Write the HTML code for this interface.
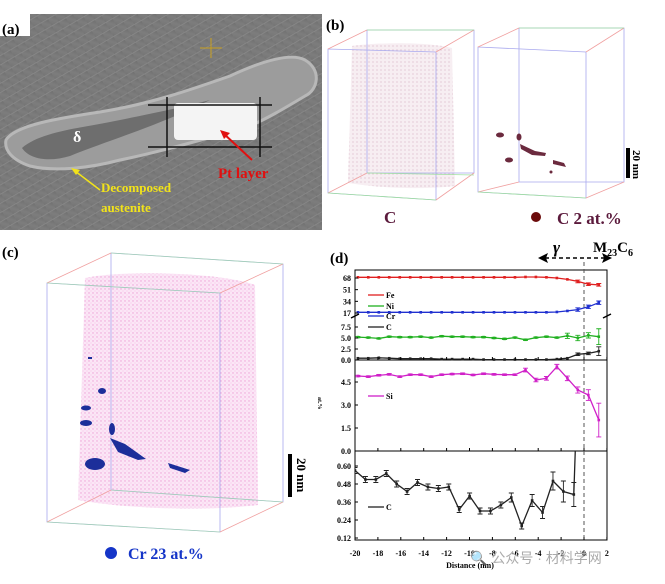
<!DOCTYPE html>
<html><head><meta charset="utf-8">
<style>
body{margin:0;background:#fff;width:665px;height:584px;overflow:hidden}
svg{display:block;font-family:"Liberation Serif",serif}
.tk{font-size:8px;font-weight:bold;text-anchor:end}
.tx{font-size:8px;font-weight:bold;text-anchor:middle}
</style></head><body>
<svg id="fig" width="665" height="584" viewBox="0 0 665 584" xmlns="http://www.w3.org/2000/svg">
<defs>
<linearGradient id="sem" x1="0" y1="0" x2="1" y2="1">
<stop offset="0" stop-color="#6e6e6e"/><stop offset="0.5" stop-color="#7d7d7d"/><stop offset="1" stop-color="#747474"/></linearGradient>
<pattern id="streak" width="8" height="8" patternUnits="userSpaceOnUse" patternTransform="rotate(60)">
<rect width="8" height="8" fill="url(#sem)"/><line x1="0" y1="0" x2="0" y2="8" stroke="#8a8a8a" stroke-width="1.5"/></pattern>
<pattern id="pink" width="4" height="4" patternUnits="userSpaceOnUse">
<rect width="4" height="4" fill="#fbe6f6"/><circle cx="1" cy="1" r="0.7" fill="#ee9fd6"/><circle cx="3" cy="3" r="0.5" fill="#f3b8e2"/></pattern>
<pattern id="pinkb" width="4" height="4" patternUnits="userSpaceOnUse">
<rect width="4" height="4" fill="#f7eef2"/><circle cx="1" cy="2" r="0.6" fill="#d7b3c4"/></pattern>
</defs>

<!-- Panel a -->
<g>
<rect x="0" y="14" width="322" height="216" fill="url(#streak)"/>
<path d="M6,140 C15,125 60,118 100,112 C150,104 190,90 230,76 C260,62 290,52 305,60 C322,70 318,90 305,96 C285,108 265,120 245,128 C200,140 160,152 120,160 C90,168 55,172 30,166 C12,160 4,150 6,140Z" fill="#9c9c9c" stroke="#b8b8b8" stroke-width="3"/>
<path d="M22,148 C40,132 80,128 110,122 C140,116 180,108 210,100 C160,125 110,140 70,156 C50,162 30,160 22,148Z" fill="#6e6e6e"/>
<rect x="174" y="103" width="83" height="37" rx="4" fill="#f4f4f4"/>
<path d="M148,105 H272 M148,147 H272 M167,97 V157 M260,97 V157" stroke="#111" stroke-width="1.5" fill="none"/>
<text x="73" y="142" font-size="16" font-weight="bold" fill="#fff">δ</text>
<line x1="223" y1="133" x2="252" y2="160" stroke="#e01010" stroke-width="2"/>
<polygon points="220,130 230,133 224,139" fill="#e01010"/>
<text x="218" y="178" font-size="15" font-weight="bold" fill="#e01010">Pt layer</text>
<line x1="75" y1="171" x2="100" y2="190" stroke="#f2e31a" stroke-width="1.5"/>
<polygon points="71,168 80,170 76,175" fill="#f2e31a"/>
<text x="101" y="192" font-size="13" font-weight="bold" fill="#f2e31a">Decomposed</text>
<text x="101" y="212" font-size="13" font-weight="bold" fill="#f2e31a">austenite</text>
<path d="M200,48 H222 M211,38 V58" stroke="#c9a020" stroke-width="1"/>
<rect x="0" y="14" width="30" height="22" fill="#fff"/>
<text x="2" y="34" font-size="15" font-weight="bold">(a)</text>
</g>

<!-- Panel b -->
<g>
<text x="326" y="30" font-size="15" font-weight="bold">(b)</text>
<path d="M352,46 C380,42 430,42 452,48 L455,186 C420,190 380,188 348,183Z" fill="url(#pinkb)"/>
<g fill="none" stroke-width="0.8">
<path d="M367,30 H474 V173 H367 Z" stroke="#a9a9ee"/>
<path d="M328,49 L436,52 V200 L328,193 Z" stroke="#a9a9ee"/>
<path d="M328,49 L367,30 M436,52 L474,30 M436,200 L474,173 M328,193 L367,173" stroke="#f0a0a0"/>
<path d="M367,30 H474 M328,193 L436,200 M367,173 L474,175" stroke="#a0e0a0"/>
<path d="M519,28 H624 V182 H519 Z" stroke="#a9a9ee"/>
<path d="M478,47 L586,52 V198 L478,192 Z" stroke="#a9a9ee"/>
<path d="M478,47 L519,28 M586,52 L624,28 M586,198 L624,182 M478,192 L519,182" stroke="#f0a0a0"/>
<path d="M519,28 H624 M478,192 L586,198" stroke="#a0e0a0"/>
</g>
<g fill="#6b2a3e">
<ellipse cx="500" cy="135" rx="4" ry="2.5"/><ellipse cx="519" cy="137" rx="2.5" ry="3.5"/>
<path d="M520,144 L535,151 L546,153 L545,156 L532,155 L521,149Z"/><ellipse cx="509" cy="160" rx="4" ry="2.5"/>
<path d="M553,160 L564,163 L566,167 L553,164Z"/><circle cx="551" cy="172" r="1.5"/>
</g>
<rect x="626" y="148" width="4" height="30" fill="#000"/>
<text transform="translate(633,150) rotate(90)" font-size="11" font-weight="bold">20 nm</text>
<text x="384" y="223" font-size="17" font-weight="bold" fill="#5b1a3c">C</text>
<circle cx="536" cy="217" r="5" fill="#6b0a0a"/>
<text x="557" y="224" font-size="17" font-weight="bold" fill="#5b1a3c">C 2 at.%</text>
</g>

<!-- Panel c -->
<g>
<text x="2" y="257" font-size="15" font-weight="bold">(c)</text>
<path d="M85,278 C120,270 220,272 255,285 L258,505 C200,512 120,508 78,500Z" fill="url(#pink)"/>
<g fill="none" stroke-width="0.8">
<path d="M111,253 L283,264 V502 L111,490 Z" stroke="#a9a9ee"/>
<path d="M47,283 L220,293 V532 L47,522 Z" stroke="#a9a9ee"/>
<path d="M47,283 L111,253 M220,293 L283,264 M220,532 L283,502 M47,522 L111,490" stroke="#f0a0a0"/>
<path d="M111,253 L283,264 M47,522 L220,532 M111,490 L283,502 M47,283 L220,293" stroke="#a0e0a0" opacity="0.7"/>
</g>
<g fill="#1c2e9a">
<ellipse cx="102" cy="391" rx="4" ry="3"/><ellipse cx="86" cy="408" rx="5" ry="2.5"/>
<ellipse cx="86" cy="423" rx="6" ry="3"/><ellipse cx="112" cy="429" rx="3" ry="6"/>
<path d="M110,438 L125,444 L146,459 L138,460 L118,452 Z"/><path d="M168,463 L190,470 L185,473 L170,468Z"/>
<ellipse cx="95" cy="464" rx="10" ry="6"/><rect x="88" y="357" width="4" height="2"/>
</g>
<rect x="288" y="454" width="4" height="43" fill="#000"/>
<text transform="translate(297,458) rotate(90)" font-size="13" font-weight="bold">20 nm</text>
<circle cx="111" cy="553" r="6" fill="#1535c8"/>
<text x="128" y="559" font-size="16" font-weight="bold" fill="#1535c8">Cr 23 at.%</text>
</g>

<!-- Panel d -->
<g id="chartd">
<text x="330" y="263" font-size="15" font-weight="bold">(d)</text>
<text x="553" y="253" font-size="17" font-style="italic" font-weight="bold">γ</text>
<text x="593" y="252" font-size="15" font-weight="bold">M<tspan font-size="10" dy="4">23</tspan><tspan dy="-4">C</tspan><tspan font-size="10" dy="4">6</tspan></text>
<line x1="545" y1="258" x2="605" y2="258" stroke="#000" stroke-width="1.5" stroke-dasharray="4,3"/>
<polygon points="538,258 548,253 546,258 548,263" fill="#000"/>
<polygon points="612,258 602,253 604,258 602,263" fill="#000"/>
<rect x="355" y="270" width="252" height="270" fill="none" stroke="#000" stroke-width="1"/>
<line x1="355" y1="360" x2="607" y2="360" stroke="#000"/>
<line x1="355" y1="451" x2="607" y2="451" stroke="#000"/>
<path d="M351,318 L359,314 M603,318 L611,314" stroke="#000" stroke-width="1.5"/>
<line x1="584" y1="262" x2="584" y2="540" stroke="#555" stroke-width="1" stroke-dasharray="4,3"/>
<text transform="translate(318,397) rotate(90)" font-size="6" font-weight="bold">at.%</text>
<text x="470" y="568" class="tx" font-size="8">Distance (nm)</text>
<g id="dmarks"></g>
</g>
<text x="470" y="563" font-size="14" fill="#aaa" font-family="'Liberation Sans','Noto Sans CJK SC',sans-serif">🔍 公众号 · 材料学网</text>
</svg>
<script>
var dist=[-19.75,-18.84,-17.92,-17.01,-16.09,-15.18,-14.26,-13.35,-12.43,-11.52,-10.6,-9.69,-8.77,-7.86,-6.94,-6.03,-5.11,-4.2,-3.28,-2.37,-1.45,-0.54,0.38,1.29];
var fe=[69,69,69,69,69,69,69,69,69,69,69,69,69,69,69,69,69.5,69.5,69,68,66,63,59,58];
var cr=[18,18,18,18,18,18,18,18,18,18,18,18,18,18,18,18,18,18,18,18.5,20,22,26,32];
var ni=[5.2,5.1,4.9,5.3,5.2,5.2,5.3,5.1,5.4,5.3,5.3,5.2,5.2,5.0,4.8,5.1,4.6,5.1,5.3,5.1,5.5,5.0,5.6,5.3];
var cTop=[0.4,0.4,0.5,0.4,0.3,0.3,0.3,0.3,0.2,0.2,0.2,0.2,0.1,0.1,0.1,0.1,0.1,0.1,0.1,0.2,0.4,1.3,1.5,2.0];
var si=[4.89,4.85,4.94,5.0,4.85,4.98,4.98,4.85,4.98,5.02,5.04,4.96,5.04,5.0,4.98,4.98,5.28,4.63,4.74,5.5,4.74,3.98,3.65,2.02];
var siErr=[0.05,0.05,0.05,0.05,0.05,0.05,0.05,0.05,0.05,0.05,0.05,0.05,0.05,0.05,0.05,0.05,0.12,0.12,0.12,0.15,0.15,0.2,0.35,1.1];
var cDist=[-20,-19.09,-18.18,-17.27,-16.36,-15.45,-14.54,-13.63,-12.72,-11.81,-10.9,-9.99,-9.08,-8.17,-7.26,-6.35,-5.44,-4.53,-3.62,-2.71,-1.8,-0.89,-0.5];
var cBot=[0.57,0.51,0.51,0.55,0.48,0.43,0.49,0.46,0.45,0.46,0.31,0.40,0.30,0.30,0.34,0.39,0.20,0.37,0.29,0.50,0.43,0.41,1.3];
var cErr=[0.02,0.02,0.02,0.02,0.02,0.02,0.02,0.02,0.02,0.02,0.02,0.02,0.02,0.02,0.02,0.03,0.02,0.04,0.04,0.06,0.07,0.08,0];
var xTicks=[-20,-18,-16,-14,-12,-10,-8,-6,-4,-2,0,2];
var topTicks=[68,51,34,17];
var lowTicks=[7.5,5.0,2.5,0.0];
var siTicks=[4.5,3.0,1.5,0.0];
var cTicks=[0.60,0.48,0.36,0.24,0.12];

var NS="http://www.w3.org/2000/svg";
var g=document.getElementById('dmarks');
function X(d){return 355+(d+20)*11.45;}
function Yt(v){return 278+(68-v)*35/51;}
function Yl(v){return 360-v*4.4;}
function Ys(v){return 451-v*15.33;}
function Yc(v){return 466+(0.60-v)*150;}
function mk(tag,at){var e=document.createElementNS(NS,tag);for(var k in at)e.setAttribute(k,at[k]);g.appendChild(e);return e;}
function series(xs,vs,yf,col,name,errs){
  var pts=xs.map(function(d,i){return X(d).toFixed(1)+','+yf(vs[i]).toFixed(1);}).join(' ');
  var pl=mk('polyline',{points:pts,fill:'none',stroke:col,'stroke-width':1.3});
  
  
  xs.forEach(function(d,i){
    var x=X(d),y=yf(vs[i]);
    var p=mk('rect',{x:x-1.3,y:y-1.3,width:2.6,height:2.6,fill:col});
    
    
    if(errs&&errs[i]){var y1=yf(vs[i]+errs[i]),y2=yf(vs[i]-errs[i]);
      mk('path',{d:'M'+x+','+y1+'V'+y2+'M'+(x-2.5)+','+y1+'h5M'+(x-2.5)+','+y2+'h5',stroke:col,'stroke-width':0.9,fill:'none'});}
  });
}
var clip=document.createElementNS(NS,'clipPath');clip.setAttribute('id','cc');
var cr_=document.createElementNS(NS,'rect');cr_.setAttribute('x',355);cr_.setAttribute('y',451);cr_.setAttribute('width',252);cr_.setAttribute('height',89);clip.appendChild(cr_);g.appendChild(clip);
var feErr=fe.map(function(v,i){return i>20?2:0;});
var crErr=cr.map(function(v,i){return i>20?2.5:0;});
var niErr=ni.map(function(v,i){return i>19?(i==23?1.8:0.6):0.15;});
var ctErr=cTop.map(function(v,i){return i>20?(i==23?1:0.3):0;});
series(dist,fe,Yt,'#e02020','fe',feErr);
series(dist,cr,Yt,'#2030d0','cr',crErr);
series(dist,ni,Yl,'#20b020','ni',niErr);
series(dist,cTop,Yl,'#222','c-top',ctErr);
series(dist,si,Ys,'#d020c8','si',siErr);
var gc=document.createElementNS(NS,'g');gc.setAttribute('clip-path','url(#cc)');
var g0=g;g=gc;g0.appendChild(gc);
series(cDist,cBot,Yc,'#222','c-bottom',cErr);
g=g0;
function ytick(vals,yf,fmt,name){vals.forEach(function(v){var y=yf(v);
  mk('line',{x1:355,y1:y,x2:358,y2:y,stroke:'#000'});
  var t=mk('text',{x:351,y:y+3,'class':'tk'});t.textContent=fmt(v);
  
  });}
ytick(topTicks,Yt,function(v){return v;},'upper-y');
ytick(lowTicks,Yl,function(v){return v.toFixed(1);},'lower-y');
ytick(siTicks,Ys,function(v){return v.toFixed(1);},'si-y');
ytick(cTicks,Yc,function(v){return v.toFixed(2);},'c-y');
xTicks.forEach(function(d){var x=X(d);
  [360,451,540].forEach(function(yb){mk('line',{x1:x,y1:yb,x2:x,y2:yb-3,stroke:'#000'});});
  var t=mk('text',{x:x,y:556,'class':'tx'});t.textContent=d;
  
  });
function leg(y,col,lab){mk('line',{x1:368,y1:y,x2:384,y2:y,stroke:col,'stroke-width':1.3});
  var t=mk('text',{x:386,y:y+3,'font-size':'8','font-weight':'bold'});t.textContent=lab;
  
  }
leg(295,'#e02020','Fe');leg(306,'#20b020','Ni');leg(316,'#2030d0','Cr');leg(327,'#222','C');
leg(396,'#d020c8','Si');leg(507,'#222','C');
</script>
</body></html>
